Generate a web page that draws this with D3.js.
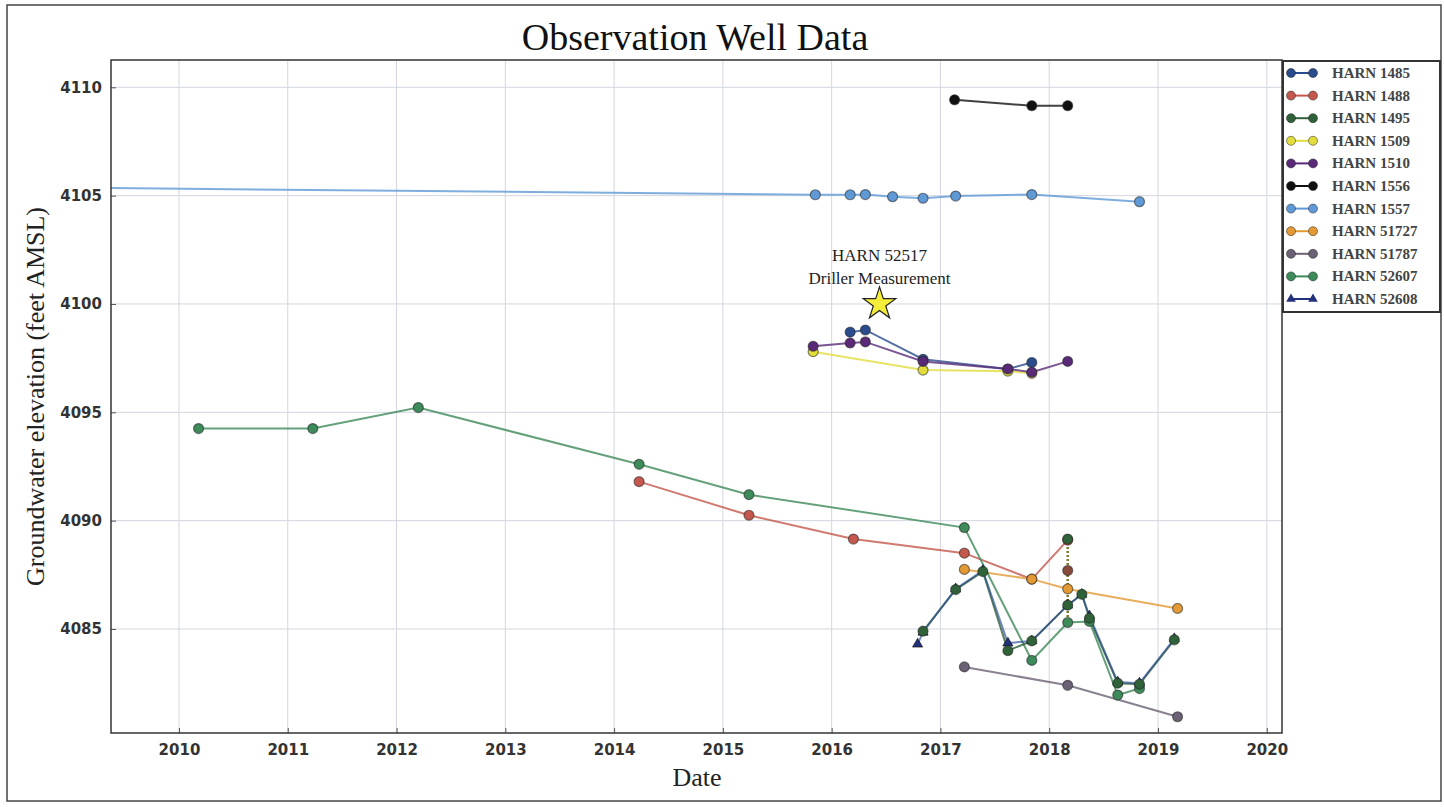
<!DOCTYPE html>
<html>
<head>
<meta charset="utf-8">
<script src="https://cdn.jsdelivr.net/npm/d3@7"></script>
<style>
  body { margin: 0; background: #fff; }
  #vis svg { display: block; }
</style>
</head>
<body>
<div id="vis"></div>
<script>
// series names in legend order
const wellNames = ['HARN 1485', 'HARN 1488', 'HARN 1495', 'HARN 1509', 'HARN 1510', 'HARN 1556',
  'HARN 1557', 'HARN 51727', 'HARN 51787', 'HARN 52607', 'HARN 52608'];
const wellColors = ['#2b4c8c', '#c4584c', '#2f6238', '#e2dc3c', '#5a2a78', '#111111',
  '#5f9ad6', '#e49a34', '#6c6275', '#3d8a5a', '#2a4a98'];

// [decimal year, elevation]
const harn1485 = [[2016.17, 4098.7], [2016.31, 4098.8], [2016.84, 4097.45], [2017.62, 4097.0], [2017.84, 4097.3]];
const harn1488 = [[2014.23, 4091.8], [2015.24, 4090.25], [2016.2, 4089.15], [2017.22, 4088.5], [2017.84, 4087.3], [2018.17, 4089.1]];
const harn1495 = [[2016.84, 4084.9], [2017.14, 4086.82], [2017.39, 4087.65], [2017.62, 4084.0], [2017.84, 4084.45],
  [2018.17, 4086.1], [2018.3, 4086.6], [2018.37, 4085.5], [2018.63, 4082.5], [2018.83, 4082.45], [2019.15, 4084.5]];
const harn1509 = [[2015.83, 4097.8], [2016.84, 4096.95], [2017.62, 4096.9], [2017.84, 4096.8]];
const harn1510 = [[2015.83, 4098.05], [2016.17, 4098.2], [2016.31, 4098.25], [2016.84, 4097.35], [2017.62, 4097.0],
  [2017.84, 4096.85], [2018.17, 4097.35]];
const harn1556 = [[2017.13, 4109.42], [2017.84, 4109.15], [2018.17, 4109.15]];
const harn1557 = [[2000.0, 4105.8], [2015.85, 4105.04], [2016.17, 4105.04], [2016.31, 4105.05], [2016.56, 4104.95],
  [2016.84, 4104.88], [2017.14, 4104.98], [2017.84, 4105.05], [2018.83, 4104.72]];
const harn51727 = [[2017.22, 4087.75], [2017.84, 4087.3], [2018.17, 4086.85], [2019.18, 4085.95]];
const harn51787 = [[2017.22, 4083.25], [2018.17, 4082.4], [2019.18, 4080.95]];
const harn52607 = [[2010.18, 4094.25], [2011.23, 4094.25], [2012.2, 4095.22], [2014.23, 4092.6], [2015.24, 4091.2],
  [2017.22, 4089.68], [2017.84, 4083.55], [2018.17, 4085.3], [2018.37, 4085.35], [2018.63, 4081.95], [2018.83, 4082.25]];
const harn52608 = [[2016.79, 4084.3], [2016.84, 4084.85], [2017.14, 4086.85], [2017.39, 4087.7], [2017.62, 4084.35],
  [2017.84, 4084.45], [2018.17, 4086.1], [2018.3, 4086.6], [2018.37, 4085.6], [2018.63, 4082.55], [2018.83, 4082.5],
  [2019.15, 4084.55]];
const wellData = [harn1485, harn1488, harn1495, harn1509, harn1510, harn1556, harn1557, harn51727, harn51787, harn52607, harn52608];

// readings stacked on one date (early 2018), joined by a dotted line
const stackDate = 2018.17;
const stackValues = [4089.15, 4087.7, 4086.85, 4086.1, 4085.3];

// driller measurement (HARN 52517)
const drillerPoint = [2016.44, 4100.0];

const xTicks = [2010, 2011, 2012, 2013, 2014, 2015, 2016, 2017, 2018, 2019, 2020];
const yTicks = [4085, 4090, 4095, 4100, 4105, 4110];

class WellChart {
  constructor() {
    this.config = {
      width: 1444,
      height: 807,
      margin: { top: 60, right: 162, bottom: 74, left: 111 }
    };
    this.initVis();
  }
  initVis() {
    let vis = this;
    const m = vis.config.margin;
    vis.innerW = vis.config.width - m.left - m.right;
    vis.innerH = vis.config.height - m.top - m.bottom;

    vis.svg = d3.select('#vis').append('svg')
      .attr('width', vis.config.width)
      .attr('height', vis.config.height);

    // figure frame
    vis.svg.append('rect')
      .attr('x', 7).attr('y', 5).attr('width', 1434).attr('height', 796)
      .attr('fill', '#fff').attr('stroke', '#444').attr('stroke-width', 1.5);

    vis.x = d3.scaleLinear().domain([2009.375, 2020.14]).range([0, vis.innerW]);
    vis.y = d3.scaleLinear().domain([4080.2, 4111.26]).range([vis.innerH, 0]);

    vis.g = vis.svg.append('g').attr('transform', `translate(${m.left},${m.top})`);
    vis.svg.append('defs').append('clipPath').attr('id', 'plotclip')
      .append('rect').attr('width', vis.innerW).attr('height', vis.innerH);
  }
  renderVis() {
    let vis = this;
    const g = vis.g;

    // grid
    g.append('g').selectAll('line').data(xTicks).join('line')
      .attr('x1', d => vis.x(d)).attr('x2', d => vis.x(d))
      .attr('y1', 0).attr('y2', vis.innerH)
      .attr('stroke', '#d3d6e0').attr('stroke-width', 1);
    g.append('g').selectAll('line').data(yTicks).join('line')
      .attr('y1', d => vis.y(d)).attr('y2', d => vis.y(d))
      .attr('x1', 0).attr('x2', vis.innerW)
      .attr('stroke', '#d3d6e0').attr('stroke-width', 1);

    // axes
    const xAxis = g.append('g').attr('transform', `translate(0,${vis.innerH})`)
      .call(d3.axisBottom(vis.x).tickValues(xTicks).tickFormat(d3.format('d')).tickSizeInner(-5).tickSizeOuter(0).tickPadding(11));
    const yAxis = g.append('g')
      .call(d3.axisLeft(vis.y).tickValues(yTicks).tickFormat(d3.format('d')).tickSizeInner(-5).tickSizeOuter(0).tickPadding(9));
    [xAxis, yAxis].forEach(a => {
      a.select('.domain').remove();
      a.selectAll('line').attr('stroke', '#555');
      a.selectAll('text').attr('font-family', '"DejaVu Sans", sans-serif')
        .attr('font-weight', 'bold').attr('font-size', 15).attr('fill', '#333');
    });

    const line = d3.line().x(d => vis.x(d[0])).y(d => vis.y(d[1]));
    const plot = g.append('g').attr('clip-path', 'url(#plotclip)');

    // stacked 2018 readings, dotted
    plot.append('path').datum(stackValues.map(v => [stackDate, v]))
      .attr('d', line).attr('fill', 'none')
      .attr('stroke', '#7d7a2c').attr('stroke-width', 2.5).attr('stroke-dasharray', '2,2');

    // lines first, 52608 line above 1495 line
    const lineOrder = [0, 1, 3, 4, 5, 6, 7, 8, 9, 2, 10];
    lineOrder.forEach(i => {
      plot.append('path').datum(wellData[i])
        .attr('d', line).attr('fill', 'none')
        .attr('stroke', wellColors[i]).attr('stroke-width', 2)
        .attr('stroke-opacity', i === 10 ? 0.65 : 0.8);
    });

    // markers: triangles underneath so the circles sit on top
    const markOrder = [10, 0, 1, 3, 4, 5, 6, 7, 8, 9, 2];
    markOrder.forEach(i => {
      const col = wellColors[i];
      const sg = plot.append('g');
      if (i === 10) {
        sg.selectAll('path').data(wellData[i]).join('path')
          .attr('transform', d => `translate(${vis.x(d[0])},${vis.y(d[1])})`)
          .attr('d', d3.symbol().type(d3.symbolTriangle).size(45))
          .attr('fill', '#22317a').attr('stroke', '#111').attr('stroke-opacity', 0.6);
      } else {
        sg.selectAll('circle').data(wellData[i]).join('circle')
          .attr('cx', d => vis.x(d[0])).attr('cy', d => vis.y(d[1])).attr('r', 5)
          .attr('fill', col).attr('stroke', '#222').attr('stroke-opacity', 0.55).attr('stroke-width', 1.2);
      }
    });

    plot.selectAll('circle.stack').data(stackValues.slice(0, 2)).join('circle').attr('class', 'stack')
      .attr('cx', vis.x(stackDate)).attr('cy', d => vis.y(d)).attr('r', 5)
      .attr('fill', (d, i) => i === 0 ? wellColors[2] : '#8a4a3a')
      .attr('stroke', '#222').attr('stroke-opacity', 0.55).attr('stroke-width', 1.2);

    // driller star + annotation
    g.append('path')
      .attr('transform', `translate(${vis.x(drillerPoint[0])},${vis.y(drillerPoint[1])})`)
      .attr('d', d3.symbol().type(d3.symbolStar).size(330))
      .attr('fill', '#f4ee3a').attr('stroke', '#222').attr('stroke-width', 1.2);
    const ann = g.append('text').attr('text-anchor', 'middle')
      .attr('font-family', '"Liberation Serif", serif').attr('font-size', 17).attr('fill', '#222');
    ann.append('tspan').attr('x', vis.x(drillerPoint[0])).attr('y', vis.y(drillerPoint[1]) - 43).text('HARN 52517');
    ann.append('tspan').attr('x', vis.x(drillerPoint[0])).attr('y', vis.y(drillerPoint[1]) - 20).text('Driller Measurement');

    // plot border
    g.append('rect').attr('width', vis.innerW).attr('height', vis.innerH)
      .attr('fill', 'none').attr('stroke', '#333').attr('stroke-width', 1.5);

    // titles
    vis.svg.append('text').attr('x', 695).attr('y', 50).attr('text-anchor', 'middle')
      .attr('font-family', '"Liberation Serif", serif').attr('font-size', 38).attr('fill', '#111')
      .text('Observation Well Data');
    vis.svg.append('text').attr('x', 697).attr('y', 786).attr('text-anchor', 'middle')
      .attr('font-family', '"Liberation Serif", serif').attr('font-size', 26).attr('fill', '#222')
      .text('Date');
    vis.svg.append('text').attr('transform', `translate(44,${60 + vis.innerH / 2}) rotate(-90)`)
      .attr('text-anchor', 'middle')
      .attr('font-family', '"Liberation Serif", serif').attr('font-size', 26).attr('fill', '#222')
      .text('Groundwater elevation (feet AMSL)');

    // legend
    const lg = vis.svg.append('g').attr('transform', 'translate(1283,61)');
    lg.append('rect').attr('width', 157).attr('height', 251)
      .attr('fill', '#fff').attr('stroke', '#333').attr('stroke-width', 2);
    wellNames.forEach((name, i) => {
      const yy = 12 + i * 22.6;
      const col = i === 10 ? '#22317a' : wellColors[i];
      lg.append('line').attr('x1', 8).attr('x2', 30).attr('y1', yy).attr('y2', yy)
        .attr('stroke', col).attr('stroke-width', 2);
      [8, 30].forEach(xx => {
        if (i === 10) {
          lg.append('path').attr('transform', `translate(${xx},${yy})`)
            .attr('d', d3.symbol().type(d3.symbolTriangle).size(40)).attr('fill', col);
        } else {
          lg.append('circle').attr('cx', xx).attr('cy', yy).attr('r', 4.5)
            .attr('fill', col).attr('stroke', '#222').attr('stroke-opacity', 0.5);
        }
      });
      lg.append('text').attr('x', 49).attr('y', yy + 5)
        .attr('font-family', '"Liberation Serif", serif').attr('font-weight', 'bold')
        .attr('font-size', 15).attr('fill', '#444').text(name);
    });
  }
}

const chart = new WellChart();
chart.renderVis();
</script>
</body>
</html>
